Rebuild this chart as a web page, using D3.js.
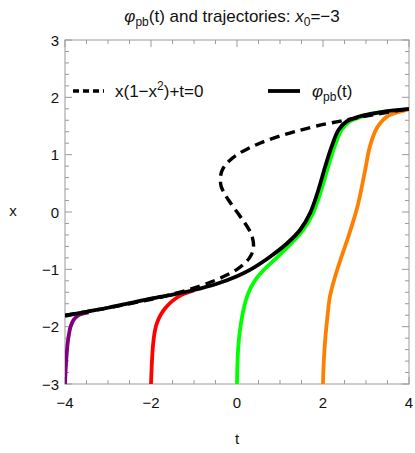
<!DOCTYPE html>
<html><head><meta charset="utf-8">
<script src="https://cdn.jsdelivr.net/npm/d3@7"></script>
<style>body{margin:0;background:#fff}svg{display:block}text{font-family:"Liberation Sans",Arial,sans-serif}</style>
</head><body><svg id="c" width="415" height="453"></svg>
<script>
// Axis ticks
const tTicks = [-4, -2, 0, 2, 4];
const xTicks = [-3, -2, -1, 0, 1, 2, 3];

// Dashed curve x(1-x^2)+t=0
const nullT = [-4.0, -3.2, -2.5, -1.85, -1.34, -0.9, -0.53, -0.24, 0.0, 0.17, 0.29, 0.36, 0.385, 0.36, 0.31, 0.19, 0.0, -0.19, -0.31, -0.37, -0.385, -0.36, -0.29, -0.17, 0.0, 0.24, 0.53, 0.9, 1.34, 1.85, 2.5, 3.2, 4.0];
const nullX = [-1.80, -1.70, -1.60, -1.50, -1.40, -1.30, -1.20, -1.10, -1.00, -0.90, -0.80, -0.70, -0.58, -0.45, -0.35, -0.20, 0.00, 0.20, 0.35, 0.45, 0.58, 0.70, 0.80, 0.90, 1.00, 1.10, 1.20, 1.30, 1.40, 1.50, 1.60, 1.70, 1.80];

// Pullback attractor phi_pb(t)
const pbT = [-4.0, -3.5, -3.0, -2.5, -2.0, -1.5, -1.0, -0.5, 0.0, 0.3, 0.77, 1.16, 1.47, 1.70, 1.89, 2.05, 2.20, 2.36, 2.55, 2.78, 3.1, 3.5, 4.0];
const pbX = [-1.81, -1.74, -1.67, -1.59, -1.51, -1.44, -1.36, -1.26, -1.12, -1.01, -0.78, -0.55, -0.31, -0.02, 0.38, 0.79, 1.14, 1.43, 1.58, 1.65, 1.71, 1.76, 1.80];

// Trajectories starting at x0 = -3
const purpleT = [-4.0, -3.985, -3.965, -3.94, -3.91, -3.87, -3.8, -3.7, -3.6, -3.45];
const purpleX = [-3.0, -2.75, -2.52, -2.3, -2.14, -2.0, -1.88, -1.81, -1.775, -1.75];
const redT = [-2.0, -1.985, -1.97, -1.95, -1.92, -1.88, -1.82, -1.75, -1.65, -1.5, -1.3, -1.0];
const redX = [-3.0, -2.72, -2.5, -2.3, -2.12, -1.98, -1.86, -1.76, -1.66, -1.55, -1.45, -1.37];
const greenT = [0.0, 0.01, 0.03, 0.07, 0.15, 0.26, 0.42, 0.61, 0.92, 1.23, 1.54, 1.77, 1.96, 2.12, 2.27, 2.43, 2.62, 2.85, 3.15, 3.5];
const greenX = [-3.0, -2.65, -2.35, -2.06, -1.71, -1.42, -1.19, -1.02, -0.80, -0.57, -0.31, -0.02, 0.38, 0.79, 1.14, 1.43, 1.58, 1.65, 1.71, 1.76];
const orangeT = [2.0, 2.01, 2.03, 2.06, 2.1, 2.16, 2.28, 2.43, 2.59, 2.72, 2.82, 2.98, 3.09, 3.25, 3.48, 3.79, 4.0];
const orangeX = [-3.0, -2.75, -2.45, -2.15, -1.85, -1.48, -1.13, -0.78, -0.43, -0.12, 0.15, 0.73, 1.14, 1.46, 1.66, 1.75, 1.79];

const svg = d3.select("#c");
const L = 65, R = 409, T = 40, B = 384;
const xs = d3.scaleLinear().domain([-4, 4]).range([L, R]);
const ys = d3.scaleLinear().domain([-3, 3]).range([B, T]);

svg.append("defs").append("clipPath").attr("id", "clip")
  .append("rect").attr("x", L).attr("y", T).attr("width", R - L).attr("height", B - T);

const frameCol = "#9a9a9a";
svg.append("rect").attr("x", L).attr("y", T).attr("width", R - L).attr("height", B - T)
  .attr("fill", "none").attr("stroke", frameCol).attr("stroke-width", 1);

// ticks
const tMinor = d3.range(-4, 4.001, 0.5).filter(v => !tTicks.includes(v));
const xMinor = d3.range(-15, 16, 1).filter(k => k % 5 !== 0).map(k => k / 5);
const g = svg.append("g").attr("stroke", frameCol).attr("stroke-width", 1);
function vt(v, len) {
  g.append("line").attr("x1", xs(v)).attr("x2", xs(v)).attr("y1", B).attr("y2", B - len);
  g.append("line").attr("x1", xs(v)).attr("x2", xs(v)).attr("y1", T).attr("y2", T + len);
}
function ht(v, len) {
  g.append("line").attr("y1", ys(v)).attr("y2", ys(v)).attr("x1", L).attr("x2", L + len);
  g.append("line").attr("y1", ys(v)).attr("y2", ys(v)).attr("x1", R).attr("x2", R - len);
}
tTicks.forEach(v => vt(v, 7)); tMinor.forEach(v => vt(v, 4));
xTicks.forEach(v => ht(v, 7)); xMinor.forEach(v => ht(v, 4));

// tick labels
svg.append("g").selectAll("text").data(tTicks).join("text")
  .attr("x", d => xs(d)).attr("y", B + 24).attr("text-anchor", "middle")
  .attr("font-size", 15).attr("fill", "#111").text(d => d < 0 ? "\u2212" + (-d) : d);
svg.append("g").selectAll("text").data(xTicks).join("text")
  .attr("x", L - 6).attr("y", d => ys(d) + 5.5).attr("text-anchor", "end")
  .attr("font-size", 15).attr("fill", "#111").text(d => d < 0 ? "\u2212" + (-d) : d);

svg.append("text").attr("x", xs(0)).attr("y", 444).attr("text-anchor", "middle")
  .attr("font-size", 15).attr("fill", "#111").text("t");
svg.append("text").attr("x", 13).attr("y", 216).attr("text-anchor", "middle")
  .attr("font-size", 15).attr("fill", "#111").text("x");

// title
const title = svg.append("text").attr("x", 232).attr("y", 22).attr("text-anchor", "middle")
  .attr("font-size", 17).attr("fill", "#111");
title.append("tspan").attr("font-style", "italic").text("\u03c6");
title.append("tspan").attr("font-size", 12).attr("dy", 4).text("pb");
title.append("tspan").attr("dy", -4).text("(t) and trajectories: ");
title.append("tspan").attr("font-style", "italic").text("x");
title.append("tspan").attr("font-size", 12).attr("dy", 4).text("0");
title.append("tspan").attr("dy", -4).text("=\u22123");

const line = d3.line().x(d => xs(d[0])).y(d => ys(d[1])).curve(d3.curveCatmullRom.alpha(0.5));
const plot = svg.append("g").attr("clip-path", "url(#clip)");
const traj = [
  [purpleT, purpleX, "#800080"],
  [redT, redX, "#ff0000"],
  [greenT, greenX, "#00ff00"],
  [orangeT, orangeX, "#ff8000"]
];
traj.forEach(([tt, xx, c]) => {
  plot.append("path").datum(tt.map((t, i) => [t, xx[i]])).attr("d", line)
    .attr("fill", "none").attr("stroke", c).attr("stroke-width", 3.8);
});
plot.append("path").datum(nullT.map((t, i) => [t, nullX[i]])).attr("d", line)
  .attr("fill", "none").attr("stroke", "#000").attr("stroke-width", 3.4)
  .attr("stroke-dasharray", "10,6");
plot.append("path").datum(pbT.map((t, i) => [t, pbX[i]])).attr("d", line)
  .attr("fill", "none").attr("stroke", "#000").attr("stroke-width", 3.8);

// legend
const lg = svg.append("g");
lg.append("line").attr("x1", 73).attr("x2", 104).attr("y1", 91).attr("y2", 91)
  .attr("stroke", "#000").attr("stroke-width", 3.4).attr("stroke-dasharray", "6,4");
const l1 = lg.append("text").attr("x", 115).attr("y", 97).attr("font-size", 17).attr("fill", "#111");
l1.append("tspan").text("x(1\u2212x");
l1.append("tspan").attr("font-size", 12).attr("dy", -7).text("2");
l1.append("tspan").attr("dy", 7).text(")+t=0");
lg.append("line").attr("x1", 268).attr("x2", 300).attr("y1", 91).attr("y2", 91)
  .attr("stroke", "#000").attr("stroke-width", 3.8);
const l2 = lg.append("text").attr("x", 312).attr("y", 97).attr("font-size", 17).attr("fill", "#111");
l2.append("tspan").attr("font-style", "italic").text("\u03c6");
l2.append("tspan").attr("font-size", 12).attr("dy", 4).text("pb");
l2.append("tspan").attr("dy", -4).text("(t)");
</script></body></html>
